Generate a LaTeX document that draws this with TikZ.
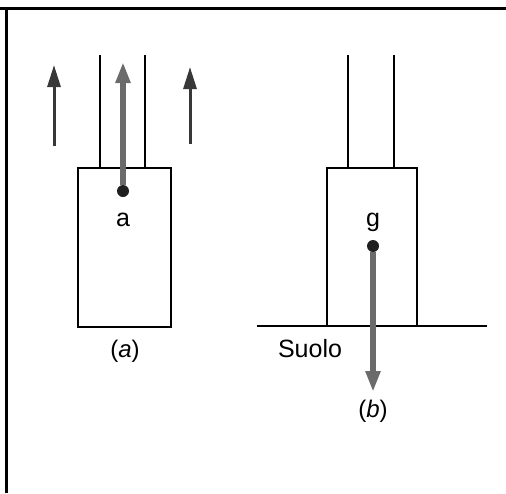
\documentclass[tikz,border=0pt]{standalone}
\usepackage{fontspec}
\setmainfont{Liberation Sans}
\usetikzlibrary{arrows.meta}

\begin{document}
\begin{tikzpicture}[x=1pt,y=-1pt,
  lbl/.style={font=\fontsize{25}{30}\selectfont, inner sep=0pt},
  sublbl/.style={font=\fontsize{24}{28}\selectfont, inner sep=0pt},
  force/.style={color=black!78, line width=3pt, -{Triangle[length=22pt,width=13pt]}},
  vec/.style={color=black!58, line width=5.5pt, -{Triangle[length=21pt,width=14pt]}},
  dot/.style={circle, fill=black!88, inner sep=0pt, minimum size=12pt},
  wall/.style={line width=1.5pt},
  rod/.style={line width=1.2pt}]
\useasboundingbox (0,0) rectangle (506,493);
\draw[line width=3pt] (0,8.5) -- (506,8.5);
\draw[line width=3pt] (6,8.5) -- (6,493);

\draw[rod] (100,55) -- (100,168);
\draw[rod] (145,55) -- (145,168);
\draw[wall] (78,168) rectangle (171,327);
\node[dot] (dotA) at (123,191) {};
\coordinate (tipA) at (123,62);
\draw[vec] (dotA) -- (tipA);
\coordinate (upL0) at (54,146);
\coordinate (upL1) at (54,65);
\draw[force] (upL0) -- (upL1);
\coordinate (upR0) at (190,144);
\coordinate (upR1) at (190,67);
\draw[force] (upR0) -- (upR1);
\node[lbl] (labA) at (123,220) {a};
\node[sublbl] (subA) at (125,351) {(\textit{a})};

\draw[rod] (348,55) -- (348,168);
\draw[rod] (394,55) -- (394,168);
\draw[wall] (327,326) -- (327,168) -- (417,168) -- (417,326);
\coordinate (soilL) at (257,326);
\coordinate (soilR) at (487,326);
\draw[wall] (soilL) -- (soilR);
\node[dot] (dotB) at (373,246) {};
\coordinate (tipB) at (373,392);
\draw[vec] (dotB) -- (tipB);
\node[lbl] (labG) at (373,222) {g};
\node[lbl] (suolo) at (310,349) {Suolo};
\node[sublbl] (subB) at (373,411) {(\textit{b})};
\end{tikzpicture}
\end{document}
